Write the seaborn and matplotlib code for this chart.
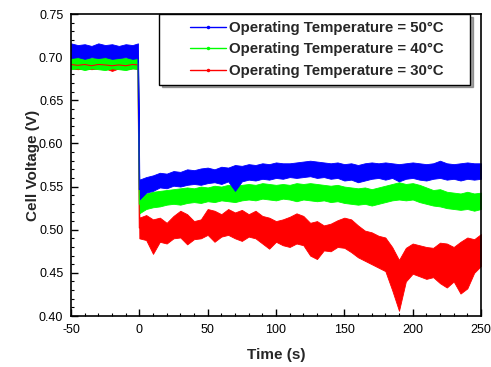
import matplotlib
matplotlib.use("Agg")
from matplotlib import pyplot as plt
from matplotlib.lines import Line2D
from matplotlib.legend_handler import HandlerLine2D
from matplotlib.ticker import MultipleLocator, FormatStrFormatter
import seaborn as sns
import pandas as pd

sns.set_theme(style="white")
plt.rcParams["font.family"] = ["Liberation Sans", "DejaVu Sans"]
plt.rcParams["axes.unicode_minus"] = False

time = [-50, -45, -40, -35, -30, -25, -20, -15, -10, -5, -1,
        0, 5, 10, 15, 20, 25, 30, 35, 40, 45, 50, 55, 60, 65, 70, 75, 80, 85, 90, 95,
        100, 105, 110, 115, 120, 125, 130, 135, 140, 145, 150, 155, 160, 165, 170, 175,
        180, 185, 190, 195, 200, 205, 210, 215, 220, 225, 230, 235, 240, 245, 250]

# upper / lower edge of each noisy trace (V)
v50_hi = [0.716, 0.714, 0.715, 0.713, 0.716, 0.714, 0.715, 0.713, 0.715, 0.714, 0.716,
          0.558, 0.561, 0.563, 0.566, 0.565, 0.568, 0.567, 0.570, 0.569, 0.571, 0.572, 0.570,
          0.573, 0.572, 0.575, 0.574, 0.576, 0.575, 0.577, 0.576, 0.578, 0.577, 0.577, 0.578,
          0.579, 0.580, 0.579, 0.578, 0.577, 0.578, 0.576, 0.577, 0.575, 0.577, 0.578, 0.577,
          0.578, 0.577, 0.576, 0.577, 0.578, 0.577, 0.576, 0.577, 0.580, 0.577, 0.576, 0.577,
          0.578, 0.577, 0.577]
v50_lo = [0.699, 0.700, 0.698, 0.700, 0.699, 0.700, 0.698, 0.699, 0.700, 0.698, 0.699,
          0.535, 0.543, 0.545, 0.549, 0.548, 0.551, 0.550, 0.552, 0.553, 0.552, 0.554, 0.555,
          0.553, 0.556, 0.545, 0.556, 0.558, 0.557, 0.559, 0.558, 0.560, 0.559, 0.561, 0.560,
          0.561, 0.562, 0.560, 0.561, 0.559, 0.560, 0.557, 0.558, 0.555, 0.557, 0.559, 0.560,
          0.558, 0.560, 0.556, 0.559, 0.560, 0.558, 0.557, 0.559, 0.560, 0.558, 0.559, 0.557,
          0.559, 0.558, 0.559]
v40_hi = [0.701, 0.700, 0.701, 0.699, 0.701, 0.700, 0.701, 0.700, 0.699, 0.701, 0.700,
          0.540, 0.542, 0.544, 0.545, 0.546, 0.547, 0.548, 0.549, 0.548, 0.550, 0.549, 0.551,
          0.550, 0.552, 0.551, 0.552, 0.553, 0.552, 0.554, 0.553, 0.552, 0.553, 0.552, 0.554,
          0.553, 0.554, 0.553, 0.552, 0.551, 0.552, 0.550, 0.549, 0.548, 0.549, 0.547, 0.549,
          0.551, 0.553, 0.555, 0.553, 0.554, 0.552, 0.549, 0.546, 0.547, 0.544, 0.543, 0.542,
          0.544, 0.542, 0.543]
v40_lo = [0.686, 0.687, 0.685, 0.687, 0.686, 0.685, 0.687, 0.686, 0.685, 0.687, 0.686,
          0.519, 0.524, 0.526, 0.527, 0.529, 0.530, 0.529, 0.531, 0.532, 0.531, 0.533, 0.532,
          0.534, 0.533, 0.532, 0.534, 0.535, 0.534, 0.536, 0.535, 0.534, 0.536, 0.535, 0.533,
          0.535, 0.534, 0.533, 0.534, 0.532, 0.533, 0.531, 0.530, 0.529, 0.530, 0.528, 0.530,
          0.532, 0.534, 0.535, 0.534, 0.535, 0.532, 0.530, 0.528, 0.527, 0.525, 0.524, 0.523,
          0.524, 0.522, 0.524]
v30_hi = [0.696, 0.695, 0.696, 0.694, 0.696, 0.695, 0.696, 0.695, 0.694, 0.696, 0.695,
          0.514, 0.517, 0.512, 0.514, 0.508, 0.516, 0.522, 0.518, 0.510, 0.512, 0.524, 0.522,
          0.518, 0.524, 0.520, 0.523, 0.518, 0.522, 0.516, 0.514, 0.510, 0.512, 0.515, 0.519,
          0.516, 0.508, 0.510, 0.505, 0.507, 0.511, 0.514, 0.512, 0.505, 0.499, 0.497, 0.493,
          0.491, 0.480, 0.465, 0.479, 0.484, 0.482, 0.480, 0.479, 0.485, 0.484, 0.480, 0.486,
          0.491, 0.489, 0.495]
v30_lo = [0.687, 0.686, 0.687, 0.686, 0.687, 0.687, 0.684, 0.687, 0.686, 0.687, 0.687,
          0.490, 0.488, 0.472, 0.486, 0.484, 0.490, 0.491, 0.483, 0.489, 0.490, 0.494, 0.486,
          0.492, 0.494, 0.490, 0.487, 0.492, 0.490, 0.484, 0.478, 0.486, 0.482, 0.480, 0.484,
          0.482, 0.470, 0.466, 0.476, 0.475, 0.480, 0.479, 0.474, 0.468, 0.464, 0.460, 0.456,
          0.452, 0.430, 0.406, 0.440, 0.449, 0.446, 0.443, 0.445, 0.438, 0.433, 0.440, 0.426,
          0.432, 0.450, 0.458]

labels = ["Operating Temperature = 50°C",
          "Operating Temperature = 40°C",
          "Operating Temperature = 30°C"]
colors = ["#0000ff", "#00ff00", "#ff0000"]

rows = []
for lab, hi, lo in zip(labels, [v50_hi, v40_hi, v30_hi], [v50_lo, v40_lo, v30_lo]):
    for t, a, b in zip(time, hi, lo):
        rows.append((lab, t, a))
        rows.append((lab, t, b))
df = pd.DataFrame(rows, columns=["series", "time", "voltage"])

fig = plt.figure(figsize=(4.91, 3.67), dpi=100)
ax = fig.add_axes([71 / 491, 1 - 316 / 367, 410 / 491, 302 / 367])

# draw 30 first so 50 ends up on top
sns.lineplot(data=df, x="time", y="voltage", hue="series",
             hue_order=labels[::-1], palette=dict(zip(labels, colors)),
             estimator="mean", errorbar=lambda v: (v.min(), v.max()),
             err_kws={"alpha": 1, "linewidth": 0.6},
             linewidth=0.8, legend=False, ax=ax)

ax.set_xlim(-50, 250)
ax.set_ylim(0.40, 0.75)
ax.xaxis.set_major_locator(MultipleLocator(50))
ax.xaxis.set_minor_locator(MultipleLocator(10))
ax.yaxis.set_major_locator(MultipleLocator(0.05))
ax.yaxis.set_minor_locator(MultipleLocator(0.01))
ax.yaxis.set_major_formatter(FormatStrFormatter("%.2f"))
ax.tick_params(which="both", direction="in", left=True, bottom=True,
               top=False, right=False, colors="black", labelsize=9, pad=5.5)
ax.tick_params(which="major", length=5, width=1)
ax.tick_params(which="minor", length=2.5, width=0.8)
for s in ax.spines.values():
    s.set_color("black")
    s.set_linewidth(1.2)

ax.set_xlabel("Time (s)", fontsize=11, fontweight="bold", labelpad=9)
ax.set_ylabel("Cell Voltage (V)", fontsize=11, fontweight="bold", labelpad=-0.5)

handles = [Line2D([], [], color=c, lw=1, marker=".", markersize=3) for c in colors]
leg = ax.legend(handles, labels, loc="upper left", mode="expand",
                bbox_to_anchor=(159 / 491, 1 - 86 / 367, 311 / 491, 72 / 367),
                bbox_transform=fig.transFigure,
                handler_map={Line2D: HandlerLine2D(xpad=1.6)},
                borderaxespad=0, frameon=True, fancybox=False, shadow=True,
                handlelength=4.0, handletextpad=0.2, labelspacing=0.5,
                borderpad=0.45, prop={"weight": "bold", "size": 10.8})
leg.get_frame().set_edgecolor("black")
leg.get_frame().set_linewidth(1)
leg.get_frame().set_alpha(1)

fig.savefig("out.png", dpi=100)
